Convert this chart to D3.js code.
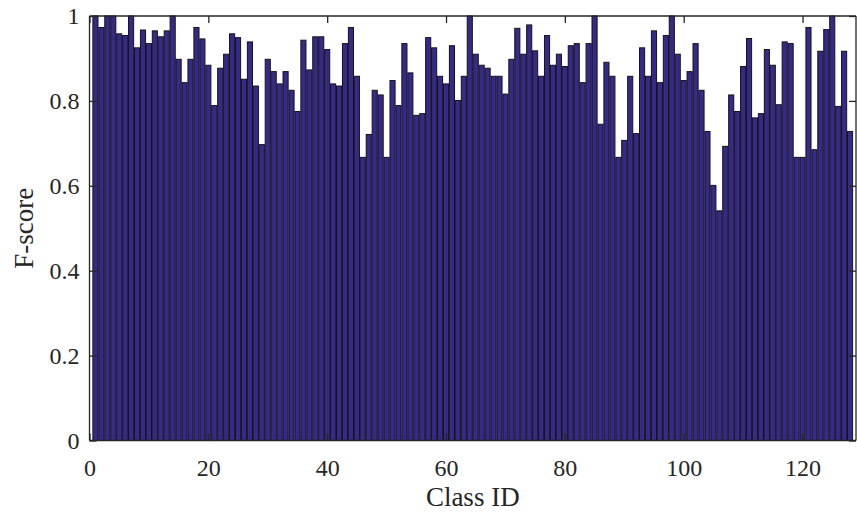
<!DOCTYPE html>
<html>
<head>
<meta charset="utf-8">
<script src="https://cdn.jsdelivr.net/npm/d3@7"></script>
<style>
  body { margin: 0; background: #fff; }
  svg { display: block; }
</style>
</head>
<body>
<svg id="chart" width="857" height="514"></svg>
<script>
// F-score per class, classes 1..128
const classIds = d3.range(1, 129);
const fScores = [
  1.000, 0.973, 1.000, 1.000, 0.958, 0.954, 1.000, 0.925, 0.967, 0.935,
  0.965, 0.951, 0.965, 1.000, 0.898, 0.843, 0.898, 0.973, 0.946, 0.884,
  0.789, 0.877, 0.910, 0.958, 0.949, 0.851, 0.939, 0.835, 0.697, 0.898,
  0.869, 0.840, 0.869, 0.825, 0.775, 0.943, 0.873, 0.951, 0.951, 0.921,
  0.840, 0.835, 0.935, 0.973, 0.858, 0.667, 0.721, 0.825, 0.814, 0.667,
  0.848, 0.789, 0.935, 0.866, 0.766, 0.770, 0.949, 0.925, 0.858, 0.840,
  0.930, 0.801, 0.858, 1.000, 0.910, 0.884, 0.877, 0.858, 0.858, 0.816,
  0.898, 0.971, 0.910, 0.979, 0.918, 0.858, 0.954, 0.884, 0.910, 0.881,
  0.930, 0.935, 0.843, 0.935, 1.000, 0.745, 0.891, 0.858, 0.667, 0.707,
  0.858, 0.723, 0.925, 0.858, 0.965, 0.843, 0.954, 1.000, 0.910, 0.848,
  0.869, 0.935, 0.825, 0.728, 0.601, 0.541, 0.693, 0.814, 0.775, 0.881,
  0.947, 0.760, 0.770, 0.921, 0.884, 0.791, 0.939, 0.935, 0.667, 0.667,
  0.973, 0.685, 0.917, 0.968, 1.000, 0.787, 0.917, 0.728
];
const xTicks = [0, 20, 40, 60, 80, 100, 120];
const yTicks = [0, 0.2, 0.4, 0.6, 0.8, 1];

const plotLeft = 89.5, plotRight = 856, plotTop = 16, plotBottom = 440.5;
const fontFamily = "'Liberation Serif', 'Times New Roman', serif";

const svg = d3.select("#chart");

const x = d3.scaleLinear().domain([0, 129]).range([plotLeft, plotRight]);
const y = d3.scaleLinear().domain([0, 1]).range([plotBottom, plotTop]);
const barW = (x(1) - x(0)) * 0.86;

// BARS
svg.append("g")
    .selectAll("rect")
    .data(fScores)
    .enter()
    .append("rect")
    .attr("x", (d, i) => x(classIds[i]) - barW / 2)
    .attr("y", d => y(d))
    .attr("width", barW)
    .attr("height", d => y(0) - y(d))
    .attr("fill", "#36298c")
    .attr("stroke", "#141414")
    .attr("stroke-width", 1);

// AXES (MATLAB style box, inward ticks)
const tickLen = 7;

const xAxisBottom = d3.axisBottom(x).tickValues(xTicks).tickSize(-tickLen).tickPadding(18).tickFormat(d3.format("d"));
const xAxisTop = d3.axisTop(x).tickValues(xTicks).tickSize(-tickLen).tickFormat("");
const yAxisLeft = d3.axisLeft(y).tickValues(yTicks).tickSize(-tickLen).tickPadding(10).tickFormat(d => d3.format("")(d));
const yAxisRight = d3.axisRight(y).tickValues(yTicks).tickSize(-tickLen).tickFormat("");

function styleAxis(g) {
    g.select(".domain").attr("stroke", "#262626").attr("stroke-width", 1.3);
    g.selectAll(".tick line").attr("stroke", "#262626").attr("stroke-width", 1.3);
    g.selectAll(".tick text")
        .attr("fill", "#262626")
        .attr("font-family", fontFamily)
        .attr("font-size", 24);
}

svg.append("g").attr("transform", "translate(0," + plotBottom + ")").call(xAxisBottom).call(styleAxis)
    .call(g => g.select(".domain").attr("d", "M" + plotLeft + ",0H" + plotRight));
svg.append("g").attr("transform", "translate(0," + plotTop + ")").call(xAxisTop).call(styleAxis)
    .call(g => g.select(".domain").attr("d", "M" + plotLeft + ",0H" + plotRight));
svg.append("g").attr("transform", "translate(" + plotLeft + ",0)").call(yAxisLeft).call(styleAxis)
    .call(g => g.select(".domain").attr("d", "M0," + plotTop + "V" + plotBottom));
svg.append("g").attr("transform", "translate(" + plotRight + ",0)").call(yAxisRight).call(styleAxis)
    .call(g => g.select(".domain").attr("d", "M0," + plotTop + "V" + plotBottom));

// LABELS
svg.append("text")
    .text("Class ID")
    .attr("x", (plotLeft + plotRight) / 2)
    .attr("y", 506)
    .attr("text-anchor", "middle")
    .attr("fill", "#262626")
    .attr("font-family", fontFamily)
    .attr("font-size", 27);

svg.append("text")
    .text("F-score")
    .attr("transform", "translate(33," + ((plotTop + plotBottom) / 2) + ") rotate(-90)")
    .attr("text-anchor", "middle")
    .attr("fill", "#262626")
    .attr("font-family", fontFamily)
    .attr("font-size", 27);
</script>
</body>
</html>
